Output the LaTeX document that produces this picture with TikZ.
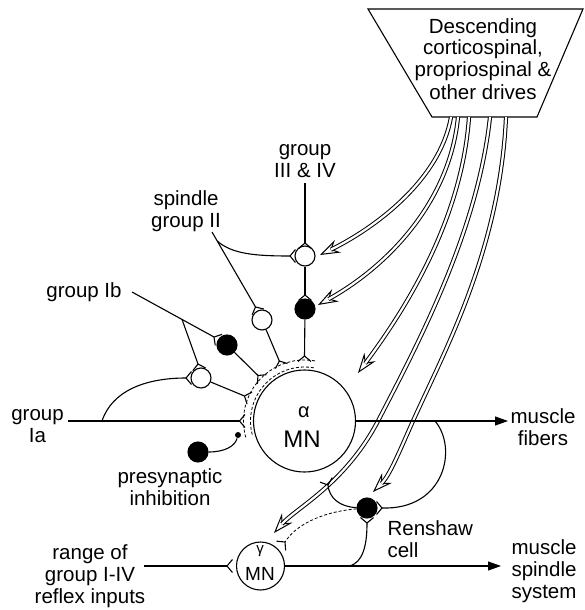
\documentclass[tikz,border=0pt]{standalone}
\usepackage{fontspec}
\setmainfont{Liberation Sans}
\usetikzlibrary{arrows.meta,calc}
% excitatory fork at #1, opening towards #2
\newcommand{\synfork}[2]{\draw[synline] (#1) -- ($(#1)!8.5pt!50:(#2)$) (#1) -- ($(#1)!8.5pt!-50:(#2)$);}
% hollow double-line drive arrow
\newcommand{\drivearrow}[1]{\draw[drivetip] #1; \draw[drivebody] #1;}
\begin{document}
\begin{tikzpicture}[x=1pt, y=-1pt, line width=1.1pt,
  synline/.style={line width=1.1pt},
  lbl/.style={font=\fontsize{20.5}{22}\selectfont, align=center, inner sep=0pt, anchor=base},
  ocell/.style={circle, draw, fill=white, minimum size=20pt, inner sep=0pt},
  bcell/.style={circle, draw, fill=black, minimum size=20pt, inner sep=0pt},
  drivetip/.style={line width=1pt, -{Stealth[open, length=20pt, width=14pt, inset=7pt]}},
  drivebody/.style={double, double distance=2.2pt, line width=1pt, shorten >=12pt},
  axon/.style={-{Triangle[length=13pt, width=9pt]}},
  envelope/.style={dash pattern=on 3pt off 2pt, line width=0.8pt}
]
\useasboundingbox (0,0) rectangle (585,610);

% descending drives box
\coordinate (tl) at (368,9);
\coordinate (tr) at (583,9);
\coordinate (br) at (537,117);
\coordinate (bl) at (432,117);
\draw (tl) -- (tr) -- (br) -- (bl) -- cycle;
\node[lbl] (drives) at (483,99) {Descending\\corticospinal,\\propriospinal \&\\other drives};
\coordinate (d1) at (451,117);
\coordinate (d2) at (458,117);
\coordinate (d3) at (469,117);
\coordinate (d4) at (490,117);
\coordinate (d5) at (506,117);

% motoneurons and interneurons
\node[circle, draw, minimum size=102pt, inner sep=0pt] (amn) at (304.5,421) {};
\node[font=\fontsize{20}{20}\selectfont, inner sep=0pt, anchor=base] (alpha) at (304,417) {α};
\node[font=\fontsize{24}{24}\selectfont, inner sep=0pt, anchor=base] (amnlbl) at (302,447) {MN};
\node[circle, draw, minimum size=48pt, inner sep=0pt] (gmn) at (260.5,566) {};
\node[font=\fontsize{15}{15}\selectfont, inner sep=0pt, anchor=base] (gamma) at (260,553) {γ};
\node[font=\fontsize{19}{19}\selectfont, inner sep=0pt, anchor=base] (gmnlbl) at (260,580) {MN};
\node[ocell] (iain) at (201,378) {};
\node[bcell] (ibin) at (227,345) {};
\node[ocell] (spin) at (262,320) {};
\node[ocell] (g34in) at (305,256) {};
\node[bcell] (g34b) at (305,309) {};
\node[bcell] (pre) at (198,452) {};
\node[circle, fill, inner sep=0pt, minimum size=6pt] (pdot) at (238,435) {};
\node[bcell] (rc) at (367,508) {};

% drive arrow tips
\coordinate (t1) at (320,255);
\coordinate (t2) at (318,305);
\coordinate (t3) at (358,373);
\coordinate (t4) at (373,492);
\coordinate (t5) at (274,533);
\coordinate (x5) at (378,421);
\coordinate (x4) at (413,421);
\drivearrow{(d1) .. controls (440,180) and (375,228) .. (t1)}
\drivearrow{(d2) .. controls (450,200) and (390,265) .. (t2)}
\drivearrow{(d3) .. controls (462,220) and (405,310) .. (t3)}
\drivearrow{(d4) .. controls (478,230) and (420,340) .. (x5) .. controls (345,484) and (296,508) .. (t5)}
\drivearrow{(d5) .. controls (500,250) and (445,350) .. (x4) .. controls (400,450) and (390,475) .. (t4)}

% synaptic contact points
\coordinate (fIa) at (239.5,421);
\coordinate (fIaIN) at (244.5,396);
\coordinate (fIbB) at (258,375.5);
\coordinate (fSp) at (279.3,361);
\coordinate (fG34) at (304.5,356);
\coordinate (fIaCurve) at (186,378);
\coordinate (fIbBranch) at (198,364);
\coordinate (fIb) at (214,337);
\coordinate (fSpIN) at (255.5,307);
\coordinate (fSpCurve) at (290,256);
\coordinate (fG34top) at (305,243);
\coordinate (fG34B) at (305,295);
\coordinate (fRcAlpha) at (328,485);
\coordinate (fRcRight) at (382,508);
\coordinate (fRcBottom) at (367,523);
\coordinate (fGamma) at (227,566);
\coordinate (fRcGamma) at (285,542);

% afferent inputs
\coordinate (iaStart) at (68,421);
\coordinate (iaBr) at (102,421);
\coordinate (ibStart) at (132,292);
\coordinate (ibBr) at (182,319.4);
\coordinate (spStart) at (212,232);
\coordinate (spBr) at (217.2,241);
\coordinate (g34Start) at (305,183);
\draw (iaStart) -- (fIa);
\draw (iaBr) .. controls (112,391) and (145,378) .. (fIaCurve);
\draw (ibStart) -- (fIb);
\draw (ibBr) -- (fIbBranch);
\draw (spStart) -- (fSpIN);
\draw (spBr) .. controls (232,254) and (255,256) .. (fSpCurve);
\draw (g34Start) -- (fG34top);
\draw (g34in) -- (fG34B);
\draw (g34b) -- (fG34);
\draw (spin) -- (fSp);
\draw (ibin) -- (fIbB);
\draw (iain) -- (fIaIN);
\draw (pre) .. controls (225,452) and (235,446) .. (pdot);

\synfork{fIa}{amn}
\synfork{fIaIN}{amn}
\synfork{fIbB}{amn}
\synfork{fSp}{amn}
\synfork{fG34}{amn}
\synfork{fIaCurve}{iain}
\synfork{fIbBranch}{iain}
\synfork{fIb}{ibin}
\synfork{fSpIN}{spin}
\synfork{fSpCurve}{g34in}
\synfork{fG34top}{g34in}
\synfork{fG34B}{g34b}
\synfork{fRcAlpha}{amn}
\synfork{fRcRight}{rc}
\synfork{fRcBottom}{rc}
\synfork{fGamma}{gmn}
\synfork{fRcGamma}{gmn}

% dendritic envelope of the alpha motoneuron
\draw[envelope] (amn.center) ++(80:54pt) arc[start angle=80, end angle=196, radius=54pt];
\draw[envelope] (amn.center) ++(80:61pt) arc[start angle=80, end angle=196, radius=61pt];

% motor axons and recurrent collaterals
\coordinate (fibTip) at (508,421);
\coordinate (spsTip) at (501,566);
\coordinate (aBr) at (435,421);
\coordinate (gBr) at (350,566);
\coordinate (rangeStart) at (144,566);
\draw[axon] (amn.east) -- (fibTip);
\draw[axon] (gmn.east) -- (spsTip);
\draw (rangeStart) -- (fGamma);
\draw (aBr) .. controls (458,448) and (445,510) .. (fRcRight);
\draw (gBr) .. controls (362,562) and (367,548) .. (fRcBottom);
\draw (rc) .. controls (340,507) and (329,498) .. (fRcAlpha);
\draw[envelope] (rc) .. controls (320,512) and (295,526) .. (fRcGamma);

% labels (anchored at the baseline of their last line)
\node[lbl] (g34lbl) at (305,177) {group\\III \& IV};
\node[lbl] (splbl) at (186,227) {spindle\\group II};
\node[lbl] (iblbl) at (84,297) {group Ib};
\node[lbl] (ialbl) at (37.5,442) {group\\Ia};
\node[lbl] (fiblbl) at (543,445) {muscle\\fibers};
\node[lbl] (prelbl) at (170,505) {presynaptic\\inhibition};
\node[lbl, align=left, anchor=base west] (rclbl) at (387,557) {Renshaw\\cell};
\node[lbl] (rangelbl) at (90,603) {range of\\group I-IV\\reflex inputs};
\node[lbl] (spslbl) at (544,598) {muscle\\spindle\\system};
\end{tikzpicture}
\end{document}
